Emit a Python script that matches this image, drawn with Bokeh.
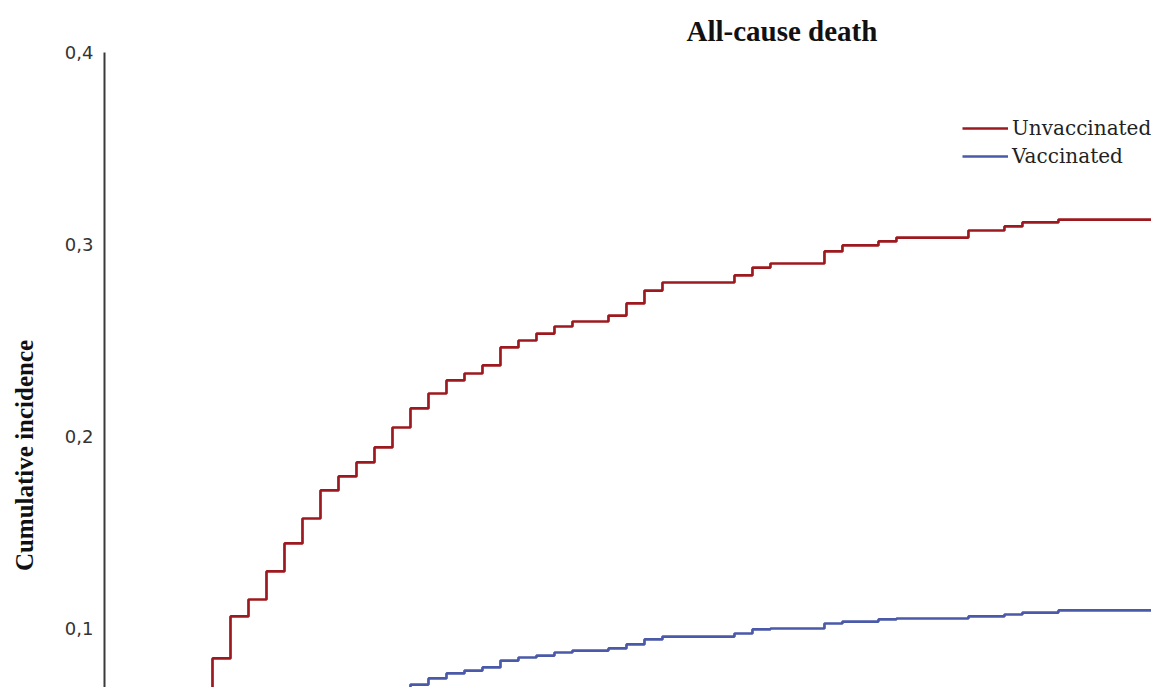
import math
from bokeh.plotting import figure
from bokeh.layouts import row
from bokeh.models import (Range1d, FixedTicker, CustomJSTickFormatter, Legend,
                          LegendItem)
from bokeh.core.properties import value
from bokeh.embed import file_html
from bokeh.resources import INLINE

# ---------------- data ----------------
title_text = "All-cause death"
y_label_text = "Cumulative incidence"
y_ticks = [0.1, 0.2, 0.3, 0.4]
series_names = ["Unvaccinated", "Vaccinated"]

# follow-up time (months) and cumulative incidence
unvacc_time = [0, 6, 7, 8, 9, 10, 11, 12, 13, 14, 15, 16, 17, 18, 19, 20, 21,
               22, 23, 24, 25, 26, 28, 29, 30, 31, 35, 36, 37, 40, 41, 43, 44,
               48, 50, 51, 53, 60]
unvacc_ci = [0.0, 0.0844, 0.1063, 0.1151, 0.1297, 0.1443, 0.1573, 0.1719,
             0.1792, 0.1865, 0.1943, 0.2047, 0.2146, 0.2224, 0.2292, 0.2328,
             0.2370, 0.2464, 0.2500, 0.2536, 0.2573, 0.2599, 0.2630, 0.2693,
             0.2760, 0.2802, 0.2839, 0.2880, 0.2901, 0.2964, 0.2995, 0.3016,
             0.3036, 0.3073, 0.3094, 0.3115, 0.3130, 0.3130]

vacc_time = [0, 13, 16, 17, 18, 19, 20, 21, 22, 23, 24, 25, 26, 28, 29, 30,
             31, 35, 36, 37, 40, 41, 43, 44, 48, 50, 51, 53, 60]
vacc_ci = [0.0, 0.0656, 0.0682, 0.0708, 0.0740, 0.0766, 0.0781, 0.0797,
           0.0833, 0.0849, 0.0859, 0.0875, 0.0885, 0.0896, 0.0917, 0.0943,
           0.0958, 0.0974, 0.0995, 0.1000, 0.1026, 0.1036, 0.1047, 0.1052,
           0.1063, 0.1073, 0.1083, 0.1094, 0.1094]

# ---------------- y-label strip ----------------
LW, H = 60, 687
lab = figure(width=LW, height=H, output_backend="svg", toolbar_location=None,
             x_axis_location=None, y_axis_location=None,
             x_range=Range1d(0, LW), y_range=Range1d(0, H),
             min_border_left=0, min_border_right=0, min_border_top=0,
             min_border_bottom=0)
lab.outline_line_color = None
lab.grid.visible = False
lab.text(x=[24], y=[H - 436], text=[y_label_text], angle=math.pi / 2,
         text_align="center", text_baseline="middle",
         text_font=value("Liberation Serif"), text_font_style="bold",
         text_font_size=value("25px"), text_color="#111111")

# ---------------- main figure ----------------
p = figure(width=1151 - LW, height=H, output_backend="svg",
           toolbar_location=None, x_axis_location=None,
           x_range=Range1d(0, 58.17), y_range=Range1d(0.06927, 0.4),
           min_border_left=104 - LW, min_border_right=0, min_border_top=52,
           min_border_bottom=0)
p.outline_line_color = None
p.grid.visible = False

p.title.text = title_text
p.title.align = "left"
p.title.offset = 582
p.title.standoff = 12
p.title.text_font = "Liberation Serif"
p.title.text_font_style = "bold"
p.title.text_font_size = "29px"
p.title.text_color = "#111111"

r_un = p.step(unvacc_time, unvacc_ci, mode="after", line_color="#9c1a1f",
              line_width=2.7)
r_va = p.step(vacc_time, vacc_ci, mode="after", line_color="#4a59a8",
              line_width=2.7)

ax = p.yaxis[0]
ax.ticker = FixedTicker(ticks=y_ticks)
ax.formatter = CustomJSTickFormatter(code="return tick.toFixed(1).replace('.', ',');")
ax.axis_line_color = "#3a3a3a"
ax.axis_line_width = 2
ax.major_tick_line_color = None
ax.minor_tick_line_color = None
ax.major_tick_out = 0
ax.major_label_standoff = 11
ax.major_label_text_font = "DejaVu Sans"
ax.major_label_text_font_size = "18px"
ax.major_label_text_color = "#333333"

legend = Legend(items=[LegendItem(label=series_names[0], renderers=[r_un]),
                       LegendItem(label=series_names[1], renderers=[r_va])],
                location=(858, 519), orientation="vertical",
                label_text_font="DejaVu Serif", label_text_font_size="20px",
                label_text_color="#222222", glyph_width=46, glyph_height=20,
                label_height=20, label_standoff=4, spacing=4, padding=0,
                margin=0, border_line_color=None, background_fill_alpha=0)
p.add_layout(legend)

layout = row(lab, p)
open("out.html", "w").write(file_html(layout, INLINE))
